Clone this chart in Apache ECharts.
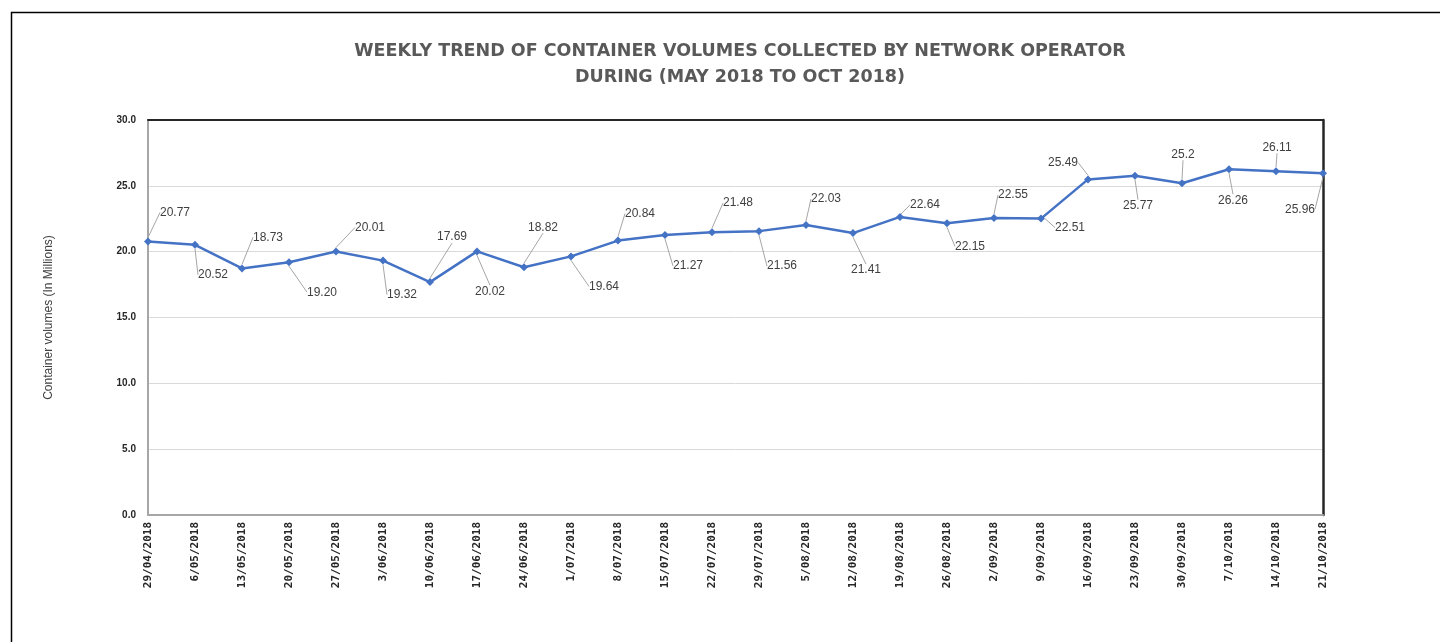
<!DOCTYPE html>
<html>
<head>
<meta charset="utf-8">
<script src="https://cdn.jsdelivr.net/npm/echarts@6/dist/echarts.min.js"></script>
<style>
html,body{margin:0;padding:0;background:#fff;}
#chart{width:1440px;height:642px;}
</style>
</head>
<body>
<div id="chart"></div>
<script>
const categories = ['29/04/2018','6/05/2018','13/05/2018','20/05/2018','27/05/2018','3/06/2018','10/06/2018','17/06/2018','24/06/2018','1/07/2018','8/07/2018','15/07/2018','22/07/2018','29/07/2018','5/08/2018','12/08/2018','19/08/2018','26/08/2018','2/09/2018','9/09/2018','16/09/2018','23/09/2018','30/09/2018','7/10/2018','14/10/2018','21/10/2018'];
const volumes = [20.77,20.52,18.73,19.20,20.01,19.32,17.69,20.02,18.82,19.64,20.84,21.27,21.48,21.56,22.03,21.41,22.64,22.15,22.55,22.51,25.49,25.77,25.2,26.26,26.11,25.96];
const labelTexts = ['20.77','20.52','18.73','19.20','20.01','19.32','17.69','20.02','18.82','19.64','20.84','21.27','21.48','21.56','22.03','21.41','22.64','22.15','22.55','22.51','25.49','25.77','25.2','26.26','26.11','25.96'];
const yTicks = {min:0, max:30, interval:5};

// label placement (offset of label centre from its point, px) – layout only
const labelDx = [27,18,26,33,34,19,22,13,19,33,22,23,26,23,20,13,25,23,19,29,-25,3,1,4,1,-23];
const labelDy = [-29,30,-31,30,-24,34,-45,40,-40,30,-27,31,-29,35,-26,37,-12,23,-23,9,-17,30,-29,31,-24,36];

const chart = echarts.init(document.getElementById('chart'));
chart.setOption({
  animation:false,
  backgroundColor:'#fff',
  graphic:[{type:'rect', left:9, top:10, shape:{width:1500, height:700}, style:{fill:'none', stroke:'#000', lineWidth:1.5}, silent:true}],
  title:{
    text:'WEEKLY TREND OF CONTAINER VOLUMES COLLECTED BY NETWORK OPERATOR\nDURING (MAY 2018 TO OCT 2018)',
    left:735, top:33, textAlign:'center',
    textStyle:{fontFamily:'DejaVu Sans', fontWeight:'bold', fontSize:17.5, color:'#595959', lineHeight:26}
  },
  grid:{left:148, right:117, top:120, bottom:127, containLabel:false},
  xAxis:[{
    type:'category', data:categories, boundaryGap:false,
    axisLine:{onZero:false, lineStyle:{color:'#a6a6a6', width:2}},
    axisTick:{show:false},
    axisLabel:{rotate:90, interval:0, margin:7, fontFamily:'DejaVu Sans Mono', fontWeight:'bold', fontSize:11, color:'#262626'}
  },{
    type:'category', data:categories, boundaryGap:false, position:'top',
    axisLine:{onZero:false, lineStyle:{color:'#262626', width:2}}, axisTick:{show:false}, axisLabel:{show:false}
  }],
  yAxis:[{
    type:'value', min:yTicks.min, max:yTicks.max, interval:yTicks.interval,
    name:'Container volumes (In Millions)', nameLocation:'middle', nameGap:93, nameRotate:90,
    nameTextStyle:{fontFamily:'Liberation Sans', fontSize:12, color:'#404040'},
    axisLine:{show:true, onZero:false, lineStyle:{color:'#a6a6a6', width:2}},
    axisTick:{show:false},
    splitLine:{lineStyle:{color:'#d9d9d9', width:1}},
    axisLabel:{formatter:v=>v.toFixed(1), fontFamily:'Liberation Sans', fontWeight:'bold', fontSize:10, color:'#262626', margin:12}
  },{
    type:'value', min:yTicks.min, max:yTicks.max, interval:yTicks.interval, position:'right',
    axisLine:{show:true, onZero:false, lineStyle:{color:'#262626', width:2.5}}, axisTick:{show:false}, axisLabel:{show:false}, splitLine:{show:false}
  }],
  series:[{
    type:'line', data:volumes, xAxisIndex:0, yAxisIndex:0,
    symbol:'diamond', symbolSize:8,
    itemStyle:{color:'#4472C4'},
    lineStyle:{color:'#4472C4', width:2.5},
    label:{show:true, formatter:p=>labelTexts[p.dataIndex], fontFamily:'Liberation Sans', fontSize:12, color:'#404040'},
    labelLine:{show:true, lineStyle:{color:'#a6a6a6', width:1}},
    labelLayout:function(p){
      const i = p.dataIndex;
      return {x:p.rect.x + p.rect.width/2 + labelDx[i], y:p.rect.y + p.rect.height/2 + labelDy[i], align:'center', verticalAlign:'middle'};
    }
  }]
});
</script>
</body>
</html>
